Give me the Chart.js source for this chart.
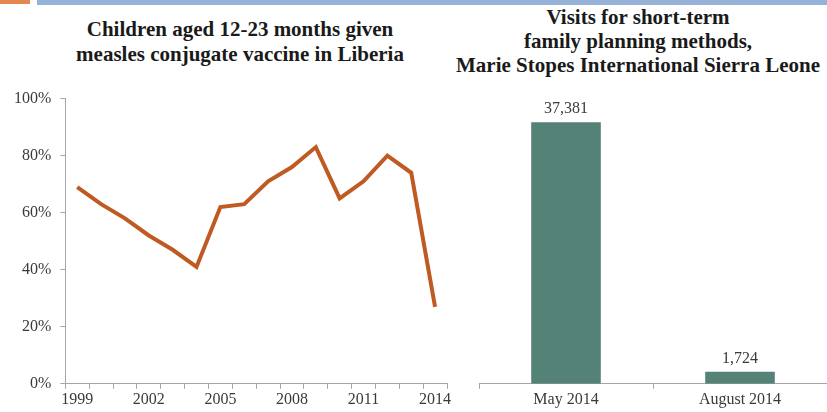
<!DOCTYPE html>
<html>
<head>
<meta charset="utf-8">
<script src="https://cdn.jsdelivr.net/npm/chart.js@4.4.1/dist/chart.umd.min.js"></script>
<style>
  html, body { margin: 0; padding: 0; background: #fff; }
  body { width: 827px; height: 412px; position: relative; overflow: hidden; font-family: "Liberation Serif", "DejaVu Serif", serif; }
  .bar-o { position: absolute; left: 0; top: 0; width: 30px; height: 4px; background: #E4884F; }
  .bar-b { position: absolute; left: 37px; top: 0; width: 790px; height: 5px; background: #95B3D6; }
  .title { position: absolute; font-weight: bold; font-size: 21px; color: #1a1a1a; text-align: center; white-space: nowrap; }
  #t1 { left: 40px; width: 400px; top: 17px; line-height: 25px; }
  #t2 { left: 438px; width: 400px; top: 5px; line-height: 24px; }
  #c1wrap { position: absolute; left: 0; top: 80px; width: 460px; height: 330px; }
  #c2wrap { position: absolute; left: 460px; top: 80px; width: 367px; height: 330px; }
</style>
</head>
<body>
<div class="bar-o"></div>
<div class="bar-b"></div>
<div class="title" id="t1">Children aged 12-23 months given<br>measles conjugate vaccine in Liberia</div>
<div class="title" id="t2">Visits for short-term<br>family planning methods,<br>Marie Stopes International Sierra Leone</div>
<div id="c1wrap"><canvas id="c1"></canvas></div>
<div id="c2wrap"><canvas id="c2"></canvas></div>
<script>
const years = ['1999','2000','2001','2002','2003','2004','2005','2006','2007','2008','2009','2010','2011','2012','2013','2014'];
const measlesCoverage = [69, 63, 58, 52, 47, 41, 62, 63, 71, 76, 83, 65, 71, 80, 74, 27];
const yTicks = [0, 20, 40, 60, 80, 100];
const visitMonths = ['May 2014', 'August 2014'];
const visitCounts = [37381, 1724];

const FONT = '"Liberation Serif", "DejaVu Serif", serif';
const AXIS = '#A6A6A6';
const TXT = '#3a3a3a';

new Chart(document.getElementById('c1'), {
  type: 'line',
  data: {
    labels: years,
    datasets: [{
      data: measlesCoverage,
      borderColor: '#BF5A22',
      borderWidth: 4,
      pointRadius: 0,
      tension: 0,
      fill: false
    }]
  },
  options: {
    responsive: true,
    maintainAspectRatio: false,
    animation: false,
    layout: { padding: { left: 5, right: 13, top: 7, bottom: 0 } },
    plugins: { legend: { display: false }, tooltip: { enabled: false } },
    scales: {
      x: {
        offset: true,
        grid: { display: true, offset: true, drawOnChartArea: false, tickLength: 5, color: AXIS },
        border: { display: true, color: AXIS, width: 1 },
        ticks: {
          autoSkip: false, maxRotation: 0, padding: 1,
          color: TXT, font: { family: FONT, size: 16 },
          callback: function(v, i) { return i % 3 === 0 ? years[i] : ''; }
        }
      },
      y: {
        min: 0, max: 100,
        afterBuildTicks: function(s) { s.ticks = yTicks.map(v => ({ value: v })); },
        grid: { display: true, drawOnChartArea: false, tickLength: 5, color: AXIS },
        border: { display: true, color: AXIS, width: 1 },
        ticks: {
          padding: 9, color: TXT, font: { family: FONT, size: 16 },
          callback: function(v) { return v + '%'; }
        }
      }
    }
  }
});

const barLabels = {
  id: 'barLabels',
  afterDatasetsDraw(chart) {
    const ctx = chart.ctx;
    const meta = chart.getDatasetMeta(0);
    ctx.save();
    ctx.font = '16px ' + FONT;
    ctx.fillStyle = TXT;
    ctx.textAlign = 'center';
    ctx.textBaseline = 'alphabetic';
    meta.data.forEach((el, i) => {
      ctx.fillText(visitCounts[i].toLocaleString('en-US'), el.x, el.y - 9);
    });
    ctx.restore();
  }
};

new Chart(document.getElementById('c2'), {
  type: 'bar',
  data: {
    labels: visitMonths,
    datasets: [{
      data: visitCounts,
      backgroundColor: '#558276',
      borderWidth: 0,
      categoryPercentage: 0.8,
      barPercentage: 0.5
    }]
  },
  options: {
    responsive: true,
    maintainAspectRatio: false,
    animation: false,
    layout: { padding: { left: 19, right: 0, top: 17, bottom: 0 } },
    plugins: { legend: { display: false }, tooltip: { enabled: false } },
    scales: {
      x: {
        grid: { display: true, offset: true, drawOnChartArea: false, tickLength: 5, color: AXIS },
        border: { display: true, color: AXIS, width: 1 },
        ticks: { maxRotation: 0, padding: 1, color: TXT, font: { family: FONT, size: 16 } }
      },
      y: {
        display: false,
        min: 0, max: 41000
      }
    }
  },
  plugins: [barLabels]
});
</script>
</body>
</html>
